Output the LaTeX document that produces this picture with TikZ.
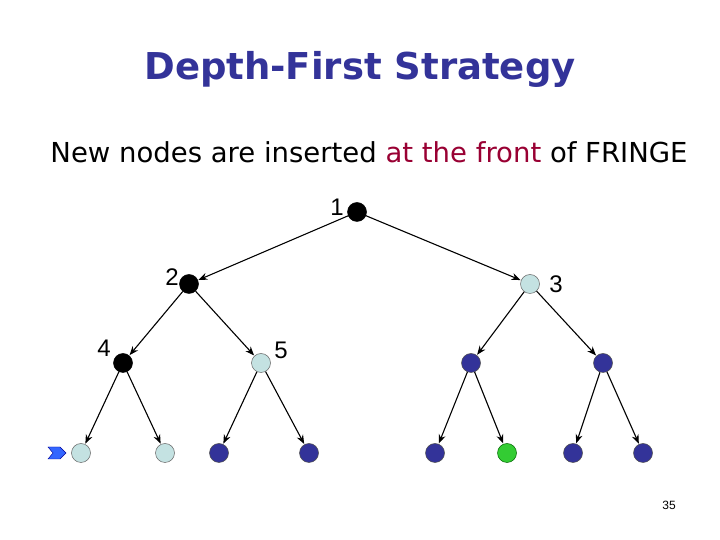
\documentclass[tikz,border=0pt]{standalone}
\usepackage{fontspec}
\setmainfont{DejaVu Sans}
\newfontfamily\arialf{Liberation Sans}
\usetikzlibrary{arrows.meta}
\definecolor{titleblue}{HTML}{333399}
\definecolor{frontred}{HTML}{990033}
\definecolor{lightnode}{HTML}{C4E2E2}
\definecolor{darknode}{HTML}{333399}
\definecolor{goalnode}{HTML}{33CC33}
\definecolor{markblue}{HTML}{3366FF}
\tikzset{
  tnode/.style={circle,minimum size=19pt,inner sep=0pt,draw=black,line width=0.5pt},
  expanded/.style={tnode,fill=black},
  fringe/.style={tnode,fill=lightnode,draw=gray!80!black},
  unseen/.style={tnode,fill=darknode,draw=black!70},
  goal/.style={tnode,fill=goalnode,draw=green!40!black},
  edge/.style={-{Stealth[length=9pt,width=7pt]},line width=1.1pt,shorten >=0.5pt},
  numlabel/.style={font=\arialf\fontsize{24}{26}\selectfont,inner sep=0pt}
}
\begin{document}
\begin{tikzpicture}[x=1pt,y=1pt]
\useasboundingbox (0,0) rectangle (720,540);
\fill[white] (0,0) rectangle (720,540);
% title
\node[font=\bfseries\fontsize{37}{44}\selectfont,text=titleblue] (title) at (360,471) {Depth-First Strategy};
\node[font=\fontsize{27.5}{32}\selectfont] (sub) at (369,388) {New nodes are inserted \textcolor{frontred}{at the front} of FRINGE};
% tree nodes (y = 540 - ypx)
\node[expanded] (n1) at (357,328) {};
\node[expanded] (n2) at (189,256) {};
\node[fringe] (n3) at (530,256) {};
\node[expanded] (n4) at (123,177) {};
\node[fringe] (n5) at (261,177) {};
\node[unseen] (n6) at (471,177) {};
\node[unseen] (n7) at (603,177) {};
\node[fringe] (l1) at (81,87) {};
\node[fringe] (l2) at (165,87) {};
\node[unseen] (l3) at (219,87) {};
\node[unseen] (l4) at (309,87) {};
\node[unseen] (l5) at (435,87) {};
\node[goal] (l6) at (507,87) {};
\node[unseen] (l7) at (573,87) {};
\node[unseen] (l8) at (643,87) {};
% labels
\node[numlabel] (t1) at (337,333) {1};
\node[numlabel] (t2) at (172,263) {2};
\node[numlabel] (t3) at (556,256) {3};
\node[numlabel] (t4) at (104,192) {4};
\node[numlabel] (t5) at (281,190) {5};
% edges
\draw[edge] (n1) -- (n2);
\draw[edge] (n1) -- (n3);
\draw[edge] (n2) -- (n4);
\draw[edge] (n2) -- (n5);
\draw[edge] (n3) -- (n6);
\draw[edge] (n3) -- (n7);
\draw[edge] (n4) -- (l1);
\draw[edge] (n4) -- (l2);
\draw[edge] (n5) -- (l3);
\draw[edge] (n5) -- (l4);
\draw[edge] (n6) -- (l5);
\draw[edge] (n6) -- (l6);
\draw[edge] (n7) -- (l7);
\draw[edge] (n7) -- (l8);
% fringe pointer chevron
\fill[markblue,draw=blue!60!black,line width=0.4pt] (48,93) -- (60,93) -- (66,87) -- (60,81) -- (48,81) -- (53,87) -- cycle;
% page number
\node[font=\arialf\fontsize{12}{14}\selectfont] (pg) at (669,35) {35};
\end{tikzpicture}
\end{document}
